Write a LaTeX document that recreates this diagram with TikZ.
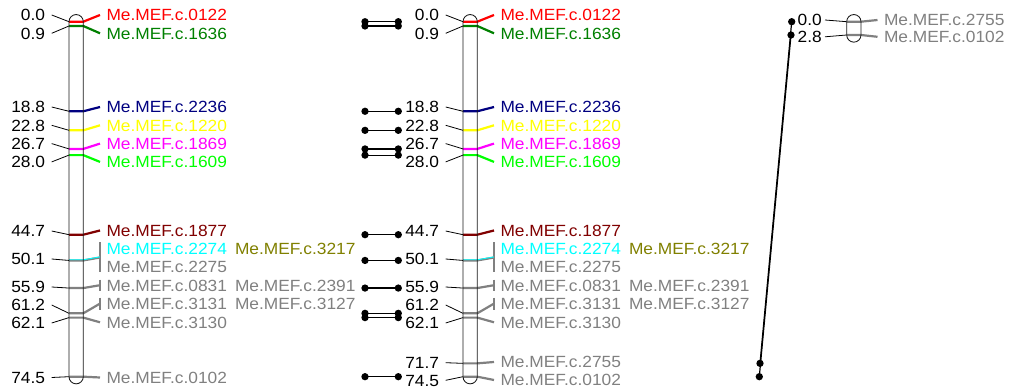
\documentclass[tikz,border=0pt]{standalone}
\usepackage{fontspec}
\setmainfont{Liberation Sans}[FakeStretch=1.07]
\definecolor{mgray}{HTML}{808080}
\definecolor{mgreen}{HTML}{008000}
\definecolor{mnavy}{HTML}{000080}
\definecolor{myellow}{HTML}{FFFF00}
\definecolor{mmagenta}{HTML}{FF00FF}
\definecolor{mlime}{HTML}{00FF00}
\definecolor{mmaroon}{HTML}{800000}
\definecolor{mcyan}{HTML}{00FFFF}
\definecolor{molive}{HTML}{808000}
\definecolor{mred}{HTML}{FF0000}
\tikzset{
 lab/.style={font=\fontsize{16.2}{16}\selectfont, inner sep=0pt, outer sep=0pt},
 posl/.style={lab, anchor=base east},
 mname/.style={lab, anchor=base west},
 lead/.style={line width=0.8pt, black},
 mline/.style={line width=2.2pt},
 barline/.style={line width=0.85pt, black!90, rounded corners=7.15pt},
 dot/.style={circle, fill=black, inner sep=0pt, minimum size=7.3pt},
 link/.style={line width=1.2pt, black},
 brk/.style={line width=1.2pt, mgray},
}
% marker with one label: id, L, marker y, left y, left text, right y, colour, right text
\newcommand\mrk[8]{%
  \coordinate (#1a) at ({#2-17.3},#4);
  \coordinate (#1b) at (#2,#3);
  \coordinate (#1c) at ({#2+14.3},#3);
  \coordinate (#1d) at ({#2+31},#6);
  \node[posl] (#1p) at ({#2-24},{#4+5.75}) {#5};
  \node[mname,text=#7] (#1n) at ({#2+37.5},{#6+5.75}) {#8};
  \draw[lead] (#1a) -- (#1b);
  \draw[mline,#7] (#1b) -- (#1c) -- (#1d);
}
% grouped marker: id, L, marker y, left y, left text, bracket centre, bracket half length, colour
\newcommand\grp[8]{%
  \coordinate (#1a) at ({#2-17.3},#4);
  \coordinate (#1b) at (#2,#3);
  \coordinate (#1c) at ({#2+14.3},#3);
  \coordinate (#1d) at ({#2+31},#6);
  \coordinate (#1u) at ({#2+31},{#6-#7});
  \coordinate (#1v) at ({#2+31},{#6+#7});
  \node[posl] (#1p) at ({#2-24},{#4+5.75}) {#5};
  \draw[lead] (#1a) -- (#1b);
  \draw[mline,#8] (#1b) -- (#1c) -- (#1d);
  \draw[brk] (#1u) -- (#1v);
}
\begin{document}
\begin{tikzpicture}[x=1pt,y=-1pt]
\useasboundingbox (0,0) rectangle (1023,390);
% ---------------- chromosome 1 (L = 69) ----------------
\mrk{a01}{69}{21.7}{15}{0.0}{15}{mred}{Me.MEF.c.0122}
\mrk{a02}{69}{26.0}{33.3}{0.9}{33.3}{mgreen}{Me.MEF.c.1636}
\mrk{a03}{69}{111.28}{107}{18.8}{107}{mnavy}{Me.MEF.c.2236}
\mrk{a04}{69}{130.34}{125.3}{22.8}{125.3}{myellow}{Me.MEF.c.1220}
\mrk{a05}{69}{148.93}{143.6}{26.7}{143.6}{mmagenta}{Me.MEF.c.1869}
\mrk{a06}{69}{155.12}{161.9}{28.0}{161.9}{mlime}{Me.MEF.c.1609}
\mrk{a07}{69}{234.69}{231}{44.7}{230.5}{mmaroon}{Me.MEF.c.1877}
\grp{a08}{69}{260.43}{259}{50.1}{257.5}{15}{mgray}
\draw[line width=0.9pt,mcyan] (69,259.8) -- (83.3,259.8) -- (100,256.9);
\node[mname,text=mcyan] (a08n1) at (106.5,{248.3+5.75}) {Me.MEF.c.2274};
\node[mname,text=molive] (a08n2) at (235,{248.3+5.75}) {Me.MEF.c.3217};
\node[mname,text=mgray] (a08n3) at (106.5,{266.6+5.75}) {Me.MEF.c.2275};
\grp{a09}{69}{288.06}{287}{55.9}{285.2}{5.6}{mgray}
\node[mname,text=mgray] (a09n1) at (106.5,{285.4+5.75}) {Me.MEF.c.0831};
\node[mname,text=mgray] (a09n2) at (235,{285.4+5.75}) {Me.MEF.c.2391};
\grp{a10}{69}{313.32}{305}{61.2}{303.6}{6}{mgray}
\node[mname,text=mgray] (a10n1) at (106.5,{303.7+5.75}) {Me.MEF.c.3131};
\node[mname,text=mgray] (a10n2) at (235,{303.7+5.75}) {Me.MEF.c.3127};
\mrk{a11}{69}{317.61}{323}{62.1}{322.3}{mgray}{Me.MEF.c.3130}
\mrk{a12}{69}{376.69}{377.5}{74.5}{377.5}{mgray}{Me.MEF.c.0102}
\draw[barline] (69,14.55) rectangle (83.3,383.85);
% ---------------- chromosome 2 (L = 463) ----------------
\mrk{b01}{463}{21.7}{15}{0.0}{15}{mred}{Me.MEF.c.0122}
\mrk{b02}{463}{26.0}{33.3}{0.9}{33.3}{mgreen}{Me.MEF.c.1636}
\mrk{b03}{463}{111.28}{107}{18.8}{107}{mnavy}{Me.MEF.c.2236}
\mrk{b04}{463}{130.34}{125.3}{22.8}{125.3}{myellow}{Me.MEF.c.1220}
\mrk{b05}{463}{148.93}{143.6}{26.7}{143.6}{mmagenta}{Me.MEF.c.1869}
\mrk{b06}{463}{155.12}{161.9}{28.0}{161.9}{mlime}{Me.MEF.c.1609}
\mrk{b07}{463}{234.69}{231}{44.7}{230.5}{mmaroon}{Me.MEF.c.1877}
\grp{b08}{463}{260.43}{259}{50.1}{257.5}{15}{mgray}
\draw[line width=0.9pt,mcyan] (463,259.8) -- (477.3,259.8) -- (494,256.9);
\node[mname,text=mcyan] (b08n1) at (500.5,{248.3+5.75}) {Me.MEF.c.2274};
\node[mname,text=molive] (b08n2) at (629,{248.3+5.75}) {Me.MEF.c.3217};
\node[mname,text=mgray] (b08n3) at (500.5,{266.6+5.75}) {Me.MEF.c.2275};
\grp{b09}{463}{288.06}{287}{55.9}{285.2}{5.6}{mgray}
\node[mname,text=mgray] (b09n1) at (500.5,{285.4+5.75}) {Me.MEF.c.0831};
\node[mname,text=mgray] (b09n2) at (629,{285.4+5.75}) {Me.MEF.c.2391};
\grp{b10}{463}{313.32}{305}{61.2}{303.6}{6}{mgray}
\node[mname,text=mgray] (b10n1) at (500.5,{303.7+5.75}) {Me.MEF.c.3131};
\node[mname,text=mgray] (b10n2) at (629,{303.7+5.75}) {Me.MEF.c.3127};
\mrk{b11}{463}{317.61}{323}{62.1}{322.3}{mgray}{Me.MEF.c.3130}
\mrk{b12}{463}{363.35}{362.7}{71.7}{362}{mgray}{Me.MEF.c.2755}
\mrk{b13}{463}{376.69}{380.3}{74.5}{380}{mgray}{Me.MEF.c.0102}
\draw[barline] (463,14.55) rectangle (477.3,383.85);
% ---------------- chromosome 3 (L = 846.7) ----------------
\coordinate (c01a) at (825,20);
\coordinate (c01b) at (846.7,21.7);
\coordinate (c01c) at (861,21.7);
\coordinate (c01d) at (877.5,20);
\node[posl] (c01p) at (821.7,{20+5.75}) {0.0};
\node[mname,text=mgray] (c01n) at (884,{20+5.75}) {Me.MEF.c.2755};
\draw[lead] (c01a) -- (c01b);
\draw[mline,mgray] (c01b) -- (c01c) -- (c01d);
\coordinate (c02a) at (825,36.8);
\coordinate (c02b) at (846.7,35);
\coordinate (c02c) at (861,35);
\coordinate (c02d) at (877.5,36.8);
\node[posl] (c02p) at (821.7,{36.8+5.75}) {2.8};
\node[mname,text=mgray] (c02n) at (884,{36.8+5.75}) {Me.MEF.c.0102};
\draw[lead] (c02a) -- (c02b);
\draw[mline,mgray] (c02b) -- (c02c) -- (c02d);
\draw[barline] (846.7,14.55) rectangle (861,42.15);
% ---------------- links between chromosome 1 and 2 ----------------
\foreach \k/\yy in {1/21.7,2/26.0,3/111.28,4/130.34,5/148.93,6/155.12,7/234.69,8/260.43,9/288.06,10/313.32,11/317.61,12/376.69}{
  \node[dot] (m\k a) at (365,\yy) {};
  \node[dot] (m\k b) at (398.3,\yy) {};
  \draw[link] (m\k a.center) -- (m\k b.center);
}
% ---------------- links between chromosome 2 and 3 ----------------
\node[dot] (n1a) at (760,363.35) {};
\node[dot] (n2a) at (759.3,376.69) {};
\node[dot] (n1b) at (791.7,21.7) {};
\node[dot] (n2b) at (791,35) {};
\draw[link] (n1a.center) -- (n1b.center);
\draw[link] (n2a.center) -- (n2b.center);
\end{tikzpicture}
\end{document}
